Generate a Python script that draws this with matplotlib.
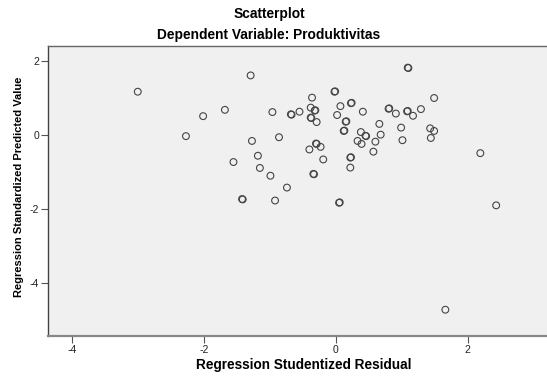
import numpy as np
import matplotlib.pyplot as plt

plt.rcParams['font.family'] = ['Liberation Sans', 'DejaVu Sans']

# studentized residual (x) and standardized predicted value (y)
resid = [-1.29, -3.00, -1.68, -2.01, -0.96, -0.67, -0.68, -0.55, -2.27, -1.27,
         -0.86, -1.18, -1.55, -1.15, -0.99, -0.74, -1.41, -1.42, -0.92, 0.05,
         0.06, 2.43, 1.66, 1.09, 1.10, -0.02, -0.01, -0.36, 1.49, 0.23,
         0.24, 0.07, -0.38, -0.31, -0.32, 0.41, 0.80, 0.81, 1.08, 1.09,
         0.91, 1.29, 1.17, 0.02, -0.38, -0.37, -0.29, 0.16, 0.15, 0.66,
         0.99, 1.43, 1.49, 0.13, 0.12, 0.38, 0.68, 0.46, 0.45, 1.44,
         0.33, 0.60, 1.01, 0.39, -0.29, -0.30, -0.23, -0.40, 0.57, 2.19,
         -0.19, 0.23, 0.22, 0.22, -0.34, -0.33]
predicted = [1.61, 1.17, 0.68, 0.51, 0.62, 0.55, 0.56, 0.63, -0.03, -0.16,
             -0.06, -0.56, -0.73, -0.89, -1.10, -1.42, -1.74, -1.73, -1.77, -1.83,
             -1.82, -1.90, -4.72, 1.82, 1.81, 1.17, 1.18, 1.01, 1.00, 0.86,
             0.87, 0.78, 0.74, 0.67, 0.66, 0.63, 0.71, 0.72, 0.64, 0.65,
             0.58, 0.70, 0.52, 0.54, 0.47, 0.46, 0.35, 0.37, 0.36, 0.30,
             0.20, 0.18, 0.11, 0.12, 0.11, 0.08, 0.01, -0.03, -0.02, -0.08,
             -0.16, -0.18, -0.14, -0.24, -0.24, -0.23, -0.32, -0.39, -0.45, -0.49,
             -0.66, -0.60, -0.61, -0.88, -1.05, -1.06]

xticks = [-4, -2, 0, 2]
yticks = [2, 0, -2, -4]

fig = plt.figure(figsize=(5.47, 3.76), dpi=100)
ax = fig.add_axes([48 / 547, 40 / 376, 499 / 547, 290 / 376])
ax.set_facecolor('#f0f0f0')

ax.scatter(resid, predicted, s=24, facecolors='none', edgecolors='#444444',
           linewidths=0.8, zorder=3)

ax.set_xlim(-4.36, 3.20)
ax.set_ylim(-5.43, 2.405)
ax.set_xticks(xticks)
ax.set_yticks(yticks)
ax.set_xticklabels([str(t) for t in xticks])
ax.set_yticklabels([str(t) for t in yticks])
ax.tick_params(axis='both', length=5, width=0.8, color='#555555',
               labelsize=7.5, labelcolor='#222222', pad=1.5)

ax.spines['right'].set_visible(False)
ax.spines['top'].set_color('#666666')
ax.spines['left'].set_color('#444444')
ax.spines['bottom'].set_color('#888888')
ax.spines['bottom'].set_linewidth(1.6)
ax.spines['top'].set_linewidth(1.0)
ax.spines['left'].set_linewidth(1.0)

ax.set_xlabel('Regression Studentized Residual', fontsize=9.8,
              fontweight='bold', va='center')
ax.xaxis.set_label_coords(0.513, -0.1)
ax.set_ylabel('Regression Standardized Predicted Value', fontsize=8.0,
              fontweight='bold', va='center')
ax.yaxis.set_label_coords(-0.058, 0.5155)

fig.text(269 / 547, 1 - 14 / 376, 'Scatterplot', ha='center', va='center',
         fontsize=9.9, fontweight='bold')
fig.text(269 / 547, 1 - 35 / 376, 'Dependent Variable: Produktivitas',
         ha='center', va='center', fontsize=9.9, fontweight='bold')

fig.savefig('out.png', dpi=100)
